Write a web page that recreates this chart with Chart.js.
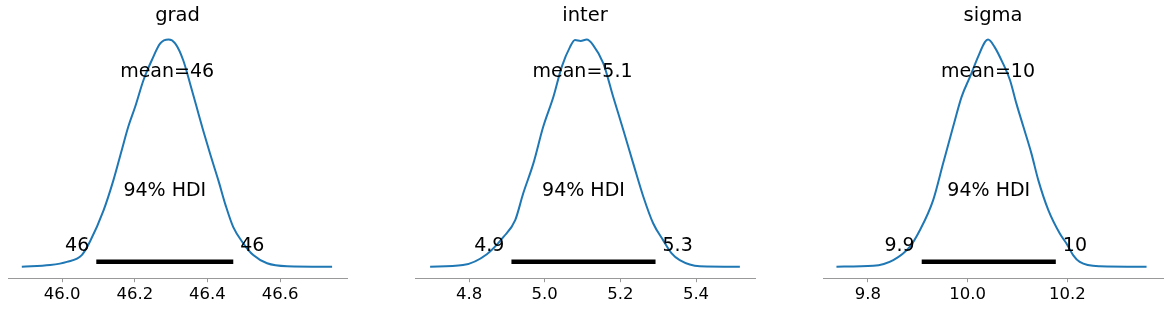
<!DOCTYPE html>
<html>
<head>
<meta charset="utf-8">
<script src="https://cdn.jsdelivr.net/npm/chart.js@4"></script>
<style>
  body { margin: 0; background: #fff; width: 1169px; height: 310px; position: relative; overflow: hidden; }
  canvas { position: absolute; top: 0; }
</style>
</head>
<body>
<canvas id="c0" width="355" height="310" style="left:0px"></canvas>
<canvas id="c1" width="356" height="310" style="left:407px"></canvas>
<canvas id="c2" width="354" height="310" style="left:815px"></canvas>
<script>
// posterior densities (scaled so the peak is 1)
var gradX = [45.889, 45.967, 46.013, 46.054, 46.077, 46.114, 46.141, 46.164, 46.182, 46.201, 46.224, 46.247, 46.270, 46.293, 46.311, 46.333, 46.352, 46.370, 46.388, 46.407, 46.430, 46.450, 46.471, 46.498, 46.526, 46.564, 46.619, 46.743];
var gradD = [0, 0.007, 0.021, 0.051, 0.112, 0.248, 0.380, 0.513, 0.616, 0.704, 0.822, 0.910, 0.983, 1.0, 0.983, 0.910, 0.807, 0.704, 0.601, 0.498, 0.380, 0.270, 0.174, 0.104, 0.051, 0.015, 0.002, 0];

var interX = [4.697, 4.784, 4.847, 4.891, 4.922, 4.943, 4.970, 4.996, 5.023, 5.045, 5.067, 5.080, 5.095, 5.111, 5.128, 5.155, 5.181, 5.208, 5.234, 5.261, 5.287, 5.313, 5.335, 5.357, 5.410, 5.516];
var interD = [0, 0.007, 0.055, 0.131, 0.205, 0.322, 0.455, 0.616, 0.748, 0.880, 0.968, 0.998, 0.994, 1.0, 0.976, 0.895, 0.748, 0.601, 0.455, 0.307, 0.190, 0.117, 0.060, 0.029, 0.002, 0];

var sigmaX = [9.737, 9.811, 9.851, 9.884, 9.904, 9.931, 9.951, 9.971, 9.988, 10.005, 10.021, 10.035, 10.041, 10.054, 10.071, 10.085, 10.098, 10.112, 10.128, 10.142, 10.162, 10.185, 10.199, 10.212, 10.225, 10.265, 10.359];
var sigmaD = [0, 0.004, 0.029, 0.087, 0.159, 0.293, 0.455, 0.616, 0.748, 0.837, 0.924, 0.990, 1.0, 0.968, 0.895, 0.822, 0.718, 0.616, 0.499, 0.380, 0.249, 0.146, 0.100, 0.050, 0.021, 0.002, 0];

var titles = ['grad', 'inter', 'sigma'];
var means = [46.289, 5.100, 10.041];
var meanLabels = ['mean=46', 'mean=5.1', 'mean=10'];
var hdiLow = [46.094, 4.912, 9.908];
var hdiHigh = [46.471, 5.293, 10.177];
var hdiLowLabels = ['46', '4.9', '9.9'];
var hdiHighLabels = ['46', '5.3', '10'];
var xMin = [45.851, 4.657, 9.710];
var xMax = [46.784, 5.556, 10.392];
var gradTicks = [46.0, 46.2, 46.4, 46.6];
var interTicks = [4.8, 5.0, 5.2, 5.4];
var sigmaTicks = [9.8, 10.0, 10.2];

var curvesX = [gradX, interX, sigmaX];
var curvesD = [gradD, interD, sigmaD];
var tickLists = [gradTicks, interTicks, sigmaTicks];

var FONT = 'DejaVu Sans';
var blue = '#1f77b4';
var axisGrey = '#999999';

function toPoints(xs, ys) {
    return xs.map(function(x, i) { return { x: x, y: ys[i] }; });
}

// text annotations placed through the scales
var annotate = {
    id: 'annotate',
    afterDatasetsDraw: function(chart) {
        var i = chart.options.plugins.annotate.panel;
        var x = chart.scales.x, y = chart.scales.y;
        var ctx = chart.ctx;
        ctx.save();
        ctx.fillStyle = '#000';
        ctx.font = '19px "' + FONT + '"';
        ctx.textBaseline = 'middle';
        ctx.textAlign = 'center';
        ctx.fillText(meanLabels[i], x.getPixelForValue(means[i]), y.getPixelForValue(0.855));
        ctx.fillText('94% HDI', x.getPixelForValue((hdiLow[i] + hdiHigh[i]) / 2), y.getPixelForValue(0.333));
        ctx.textAlign = 'right';
        ctx.fillText(hdiLowLabels[i], x.getPixelForValue(hdiLow[i]) - 7, y.getPixelForValue(0.091));
        ctx.textAlign = 'left';
        ctx.fillText(hdiHighLabels[i], x.getPixelForValue(hdiHigh[i]) + 7, y.getPixelForValue(0.091));
        ctx.restore();
    }
};

function makePanel(i) {
    var ctx = document.getElementById('c' + i).getContext('2d');
    var ticks = tickLists[i];
    new Chart(ctx, {
        type: 'scatter',
        data: {
            datasets: [{
                data: toPoints(curvesX[i], curvesD[i]),
                showLine: true,
                borderColor: blue,
                borderWidth: 2,
                pointRadius: 0,
                cubicInterpolationMode: 'monotone'
            }, {
                data: toPoints([hdiLow[i], hdiHigh[i]], [0.022, 0.022]),
                showLine: true,
                borderColor: '#000',
                borderWidth: 4.5,
                borderCapStyle: 'butt',
                pointRadius: 0
            }]
        },
        options: {
            responsive: false,
            animation: false,
            layout: { padding: { left: 8, right: i === 2 ? 6 : 8, top: 0, bottom: 2 } },
            plugins: {
                legend: { display: false },
                tooltip: { enabled: false },
                title: {
                    display: true,
                    text: titles[i],
                    color: '#000',
                    font: { family: FONT, size: 19.5, weight: 'normal' },
                    padding: { top: 4, bottom: 4 }
                },
                annotate: { panel: i }
            },
            scales: {
                x: {
                    type: 'linear',
                    min: xMin[i],
                    max: xMax[i],
                    afterBuildTicks: function(scale) {
                        scale.ticks = ticks.map(function(v) { return { value: v }; });
                    },
                    ticks: {
                        color: '#000',
                        padding: 3,
                        maxRotation: 0,
                        font: { family: FONT, size: 16.5 },
                        callback: function(v) { return Number(v).toFixed(1); }
                    },
                    grid: { drawOnChartArea: false, drawTicks: true, tickLength: 4, color: axisGrey },
                    border: { display: true, color: axisGrey, width: 1 }
                },
                y: {
                    display: false,
                    min: -0.0507,
                    max: 1.036
                }
            }
        },
        plugins: [annotate]
    });
}

makePanel(0);
makePanel(1);
makePanel(2);
</script>
</body>
</html>
